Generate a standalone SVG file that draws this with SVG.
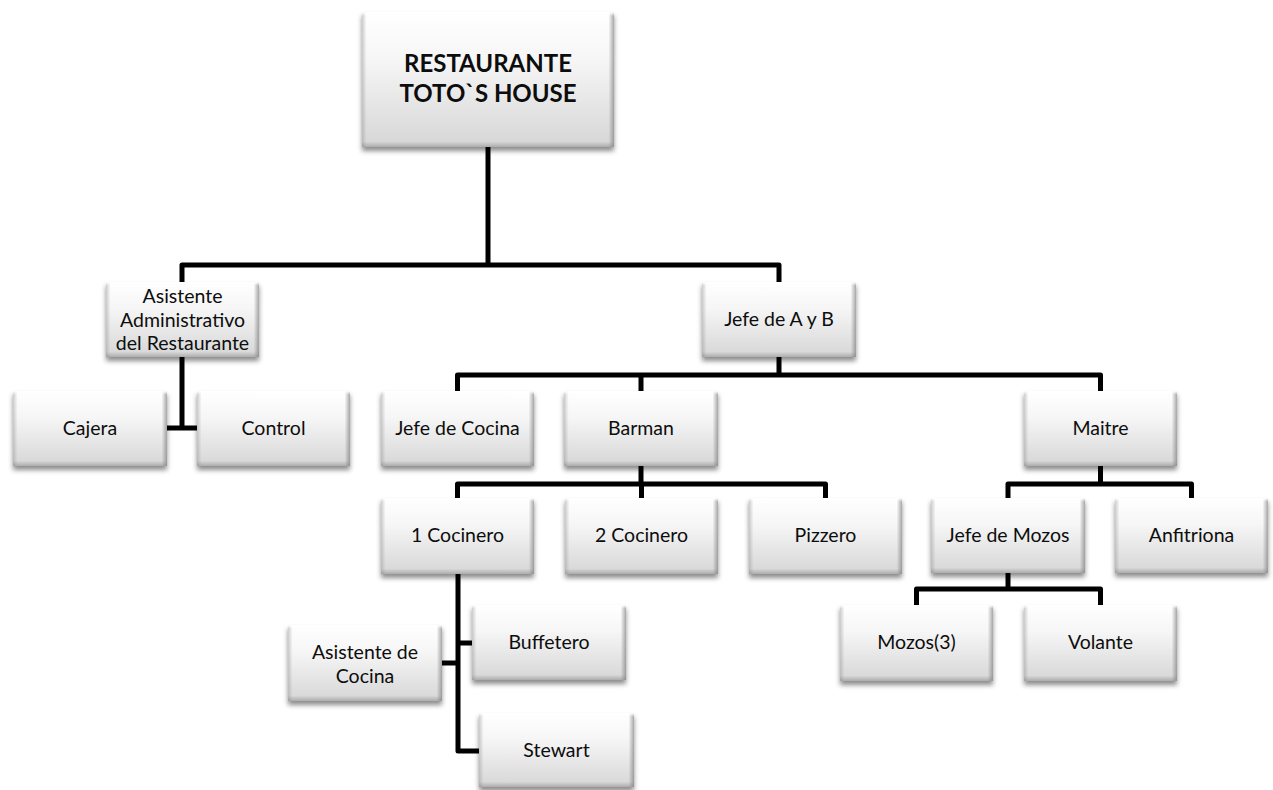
<svg xmlns="http://www.w3.org/2000/svg" width="1273" height="790" viewBox="0 0 1273 790">
  <style>
    .box { fill: url(#body); filter: url(#shadow); }
    .bevx { fill: url(#edgeX); }
    .bevy { fill: url(#edgeY); }
    .big .bevx { fill: url(#edgeXbig); }
    .big .bevy { fill: url(#edgeYbig); }
    .label { font-family: Lato, "Liberation Sans", sans-serif; font-size: 19.5px; fill: #0d0d0d; text-anchor: middle; }
    .title { font-family: Lato, "Liberation Sans", sans-serif; font-size: 24px; font-weight: bold; fill: #0d0d0d; text-anchor: middle; }
    .links path { fill: none; stroke: #000; stroke-width: 5; stroke-linejoin: round; }
  </style>
  <defs>
    <linearGradient id="body" x1="0" y1="0" x2="0" y2="1">
      <stop offset="0" stop-color="#ffffff"/>
      <stop offset="0.35" stop-color="#f6f6f6"/>
      <stop offset="1" stop-color="#d6d6d6"/>
    </linearGradient>
    <!-- side bevels: light left edge, darker right edge -->
    <linearGradient id="edgeX" x1="0" y1="0" x2="1" y2="0">
      <stop offset="0" stop-color="#9a9a9a" stop-opacity="0.5"/>
      <stop offset="0.03" stop-color="#9a9a9a" stop-opacity="0"/>
      <stop offset="0.965" stop-color="#7a7a7a" stop-opacity="0"/>
      <stop offset="1" stop-color="#7a7a7a" stop-opacity="0.65"/>
    </linearGradient>
    <!-- top highlight and bottom shade -->
    <linearGradient id="edgeY" x1="0" y1="0" x2="0" y2="1">
      <stop offset="0" stop-color="#ffffff" stop-opacity="1"/>
      <stop offset="0.05" stop-color="#ffffff" stop-opacity="0"/>
      <stop offset="0.93" stop-color="#8a8a8a" stop-opacity="0"/>
      <stop offset="1" stop-color="#8a8a8a" stop-opacity="0.55"/>
    </linearGradient>
    <linearGradient id="edgeXbig" x1="0" y1="0" x2="1" y2="0">
      <stop offset="0" stop-color="#9a9a9a" stop-opacity="0.5"/>
      <stop offset="0.018" stop-color="#9a9a9a" stop-opacity="0"/>
      <stop offset="0.978" stop-color="#7a7a7a" stop-opacity="0"/>
      <stop offset="1" stop-color="#7a7a7a" stop-opacity="0.65"/>
    </linearGradient>
    <linearGradient id="edgeYbig" x1="0" y1="0" x2="0" y2="1">
      <stop offset="0" stop-color="#ffffff" stop-opacity="1"/>
      <stop offset="0.03" stop-color="#ffffff" stop-opacity="0"/>
      <stop offset="0.96" stop-color="#8a8a8a" stop-opacity="0"/>
      <stop offset="1" stop-color="#8a8a8a" stop-opacity="0.55"/>
    </linearGradient>
    <filter id="shadow" x="-10%" y="-10%" width="120%" height="130%">
      <feGaussianBlur in="SourceAlpha" stdDeviation="2.5"/>
      <feOffset dy="4" result="b"/>
      <feFlood flood-color="#000" flood-opacity="0.45"/>
      <feComposite in2="b" operator="in"/>
      <feMerge>
        <feMergeNode/>
        <feMergeNode in="SourceGraphic"/>
      </feMerge>
    </filter>
  </defs>

  <rect width="1273" height="790" fill="#ffffff"/>

  <!-- connectors -->
  <g class="links" id="links">
    <path d="M488 147 V265"/>
    <path d="M182 282 V265 H779 V282"/>
    <path d="M182 357 V428 M167 428 H197"/>
    <path d="M779 357 V375"/>
    <path d="M457.5 391 V375 H1100.5 V391 M641 375 V391"/>
    <path d="M641 466 V484"/>
    <path d="M457.5 498 V484 H825.5 V498 M641.5 484 V498"/>
    <path d="M1100.5 466 V484"/>
    <path d="M1008 498 V484 H1191.5 V498"/>
    <path d="M1008 573 V589"/>
    <path d="M916.5 605 V589 H1100.5 V605"/>
    <path d="M458 574 V751 H479 M442 663 H458 M458 643 H472"/>
  </g>

  <!-- nodes -->
  <g id="restaurante" class="big">
    <rect class="box" x="362" y="12" width="252" height="135"/>
    <rect class="bevx" x="362" y="12" width="252" height="135"/>
    <rect class="bevy" x="362" y="12" width="252" height="135"/>
    <text class="title" x="488" y="72">RESTAURANTE</text>
    <text class="title" x="488" y="102">TOTO`S HOUSE</text>
  </g>

  <g id="asistente-admin">
    <rect class="box" x="106" y="282" width="153" height="75"/>
    <rect class="bevx" x="106" y="282" width="153" height="75"/>
    <rect class="bevy" x="106" y="282" width="153" height="75"/>
    <text class="label" x="182.5" y="303">Asistente</text>
    <text class="label" x="182.5" y="327">Administrativo</text>
    <text class="label" x="182.5" y="350">del Restaurante</text>
  </g>

  <g id="jefe-ayb">
    <rect class="box" x="702" y="282" width="154" height="75"/>
    <rect class="bevx" x="702" y="282" width="154" height="75"/>
    <rect class="bevy" x="702" y="282" width="154" height="75"/>
    <text class="label" x="779" y="326">Jefe de A y B</text>
  </g>

  <g id="cajera">
    <rect class="box" x="13" y="391" width="154" height="75"/>
    <rect class="bevx" x="13" y="391" width="154" height="75"/>
    <rect class="bevy" x="13" y="391" width="154" height="75"/>
    <text class="label" x="90" y="435">Cajera</text>
  </g>

  <g id="control">
    <rect class="box" x="197" y="391" width="153" height="75"/>
    <rect class="bevx" x="197" y="391" width="153" height="75"/>
    <rect class="bevy" x="197" y="391" width="153" height="75"/>
    <text class="label" x="273.5" y="435">Control</text>
  </g>

  <g id="jefe-cocina">
    <rect class="box" x="381" y="391" width="153" height="75"/>
    <rect class="bevx" x="381" y="391" width="153" height="75"/>
    <rect class="bevy" x="381" y="391" width="153" height="75"/>
    <text class="label" x="457.5" y="435">Jefe de Cocina</text>
  </g>

  <g id="barman">
    <rect class="box" x="564" y="391" width="154" height="75"/>
    <rect class="bevx" x="564" y="391" width="154" height="75"/>
    <rect class="bevy" x="564" y="391" width="154" height="75"/>
    <text class="label" x="641" y="435">Barman</text>
  </g>

  <g id="maitre">
    <rect class="box" x="1024" y="391" width="153" height="75"/>
    <rect class="bevx" x="1024" y="391" width="153" height="75"/>
    <rect class="bevy" x="1024" y="391" width="153" height="75"/>
    <text class="label" x="1100.5" y="435">Maitre</text>
  </g>

  <g id="cocinero-1">
    <rect class="box" x="381" y="498" width="153" height="76"/>
    <rect class="bevx" x="381" y="498" width="153" height="76"/>
    <rect class="bevy" x="381" y="498" width="153" height="76"/>
    <text class="label" x="457.5" y="542">1 Cocinero</text>
  </g>

  <g id="cocinero-2">
    <rect class="box" x="565" y="498" width="153" height="76"/>
    <rect class="bevx" x="565" y="498" width="153" height="76"/>
    <rect class="bevy" x="565" y="498" width="153" height="76"/>
    <text class="label" x="641.5" y="542">2 Cocinero</text>
  </g>

  <g id="pizzero">
    <rect class="box" x="749" y="498" width="153" height="76"/>
    <rect class="bevx" x="749" y="498" width="153" height="76"/>
    <rect class="bevy" x="749" y="498" width="153" height="76"/>
    <text class="label" x="825.5" y="542">Pizzero</text>
  </g>

  <g id="jefe-mozos">
    <rect class="box" x="931" y="498" width="154" height="75"/>
    <rect class="bevx" x="931" y="498" width="154" height="75"/>
    <rect class="bevy" x="931" y="498" width="154" height="75"/>
    <text class="label" x="1008" y="542">Jefe de Mozos</text>
  </g>

  <g id="anfitriona">
    <rect class="box" x="1115" y="498" width="153" height="75"/>
    <rect class="bevx" x="1115" y="498" width="153" height="75"/>
    <rect class="bevy" x="1115" y="498" width="153" height="75"/>
    <text class="label" x="1191.5" y="542">Anfitriona</text>
  </g>

  <g id="buffetero">
    <rect class="box" x="472" y="605" width="154" height="75"/>
    <rect class="bevx" x="472" y="605" width="154" height="75"/>
    <rect class="bevy" x="472" y="605" width="154" height="75"/>
    <text class="label" x="549" y="649">Buffetero</text>
  </g>

  <g id="asistente-cocina">
    <rect class="box" x="288" y="625" width="154" height="76"/>
    <rect class="bevx" x="288" y="625" width="154" height="76"/>
    <rect class="bevy" x="288" y="625" width="154" height="76"/>
    <text class="label" x="365" y="659">Asistente de</text>
    <text class="label" x="365" y="683">Cocina</text>
  </g>

  <g id="stewart">
    <rect class="box" x="479" y="713" width="155" height="74"/>
    <rect class="bevx" x="479" y="713" width="155" height="74"/>
    <rect class="bevy" x="479" y="713" width="155" height="74"/>
    <text class="label" x="556.5" y="757">Stewart</text>
  </g>

  <g id="mozos">
    <rect class="box" x="840" y="605" width="153" height="76"/>
    <rect class="bevx" x="840" y="605" width="153" height="76"/>
    <rect class="bevy" x="840" y="605" width="153" height="76"/>
    <text class="label" x="916.5" y="649">Mozos(3)</text>
  </g>

  <g id="volante">
    <rect class="box" x="1024" y="605" width="153" height="76"/>
    <rect class="bevx" x="1024" y="605" width="153" height="76"/>
    <rect class="bevy" x="1024" y="605" width="153" height="76"/>
    <text class="label" x="1100.5" y="649">Volante</text>
  </g>
</svg>
